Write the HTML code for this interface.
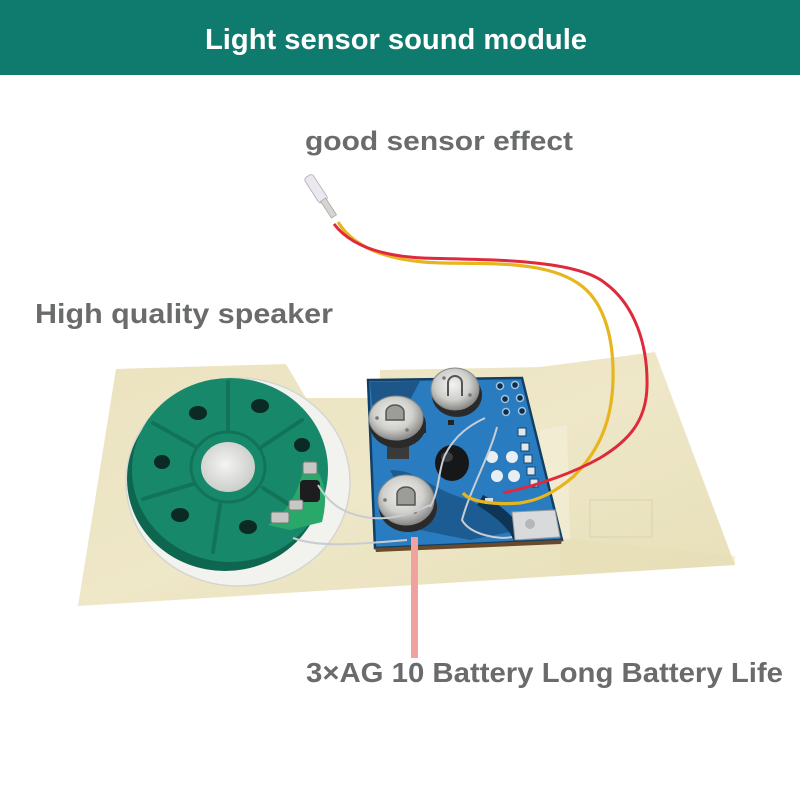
<!DOCTYPE html>
<html><head><meta charset="utf-8"><style>
html,body{margin:0;padding:0;background:#fff;}
svg{display:block;}
text{font-family:"Liberation Sans",Arial,sans-serif;font-weight:bold;}
</style></head><body>
<svg width="800" height="800" viewBox="0 0 800 800" xmlns="http://www.w3.org/2000/svg">
<defs>
<radialGradient id="coin" cx="45%" cy="40%" r="60%">
<stop offset="0" stop-color="#f2f2f0"/><stop offset="0.6" stop-color="#cfcfcc"/><stop offset="1" stop-color="#8a8a88"/>
</radialGradient>
<radialGradient id="dome" cx="45%" cy="45%" r="60%">
<stop offset="0" stop-color="#f4f4f2"/><stop offset="1" stop-color="#c9cbc8"/>
</radialGradient>
<linearGradient id="tape" x1="0" y1="0" x2="1" y2="1">
<stop offset="0" stop-color="#ebe3bf"/><stop offset="0.5" stop-color="#eee7c8"/><stop offset="1" stop-color="#e7dfb7"/>
</linearGradient>
</defs>
<rect width="800" height="800" fill="#fff"/>
<!-- header -->
<rect x="0" y="0" width="800" height="75" fill="#0f7b6e"/>
<text x="205" y="49" font-size="29" fill="#fff" textLength="382" lengthAdjust="spacingAndGlyphs">Light sensor sound module</text>

<!-- labels -->
<text x="305" y="150" font-size="27" fill="#6a6b6b" textLength="268" lengthAdjust="spacingAndGlyphs">good sensor effect</text>
<text x="35" y="323" font-size="28" fill="#6a6b6b" textLength="298" lengthAdjust="spacingAndGlyphs">High quality speaker</text>

<!-- tape -->
<polygon points="116,369 286,364 306,398 380,398 380,370 540,367 655,352 735,565 78,606" fill="url(#tape)"/>
<rect x="590" y="500" width="62" height="37" fill="none" stroke="#d8d2b6" stroke-width="1"/>
<polygon points="540,430 567,425 570,540 540,545" fill="#f3eed8" opacity="0.7"/>
<polygon points="560,538 735,556 735,565 560,575" fill="#e5ddb3" opacity="0.5"/>

<!-- speaker -->
<ellipse cx="238" cy="482" rx="112" ry="104" fill="#f2f2ef" stroke="#d6d6d0" stroke-width="1.5"/>
<ellipse cx="225" cy="479" rx="98" ry="92" fill="#0e664f"/>
<ellipse cx="230" cy="470" rx="98" ry="92" fill="#18886b"/>
<g stroke="#117358" stroke-width="4" stroke-linecap="round">
<line x1="228" y1="430" x2="228" y2="382"/>
<line x1="196" y1="447" x2="153" y2="423"/>
<line x1="193" y1="484" x2="143" y2="499"/>
<line x1="220" y1="505" x2="213" y2="552"/>
<line x1="260" y1="448" x2="302" y2="420"/>
<line x1="263" y1="488" x2="298" y2="510"/>
</g>
<ellipse cx="228" cy="467" rx="37" ry="35" fill="#18886b" stroke="#117358" stroke-width="3"/>
<ellipse cx="228" cy="467" rx="27" ry="25" fill="url(#dome)"/>
<g fill="#0b2a24">
<ellipse cx="198" cy="413" rx="9" ry="7"/>
<ellipse cx="260" cy="406" rx="9" ry="7"/>
<ellipse cx="302" cy="445" rx="8" ry="7"/>
<ellipse cx="162" cy="462" rx="8" ry="7"/>
<ellipse cx="180" cy="515" rx="9" ry="7"/>
<ellipse cx="248" cy="527" rx="9" ry="7"/>
</g>
<!-- speaker tab -->
<path d="M305,460 C322,470 330,490 322,522 L290,530 L268,525 C290,510 300,490 305,460 Z" fill="#2aa86a"/>
<rect x="303" y="462" width="14" height="12" rx="2" fill="#c7c7c4" stroke="#777" stroke-width="1"/>
<rect x="300" y="480" width="20" height="22" rx="4" fill="#1d1d1f"/>
<rect x="289" y="500" width="14" height="10" rx="2" fill="#c7c7c4" stroke="#777" stroke-width="1"/>
<rect x="271" y="512" width="18" height="11" rx="2" fill="#c7c7c4" stroke="#777" stroke-width="1"/>

<!-- pcb -->
<polygon points="368,380 522,378 562,540 375,548" fill="#2a7cc0"/>
<polygon points="368,380 522,378 562,540 375,548" fill="none" stroke="#123f66" stroke-width="2.5"/>
<polygon points="375,548 562,540 561,544 376,552" fill="#6b4a2a"/>
<path d="M370,382 L420,381 L410,400 L372,405 Z" fill="#163d62" opacity="0.6"/>
<path d="M390,470 C420,470 430,490 470,500 L520,530 L470,540 L420,530 Z" fill="#1a5486" opacity="0.8"/>
<path d="M480,500 C500,512 515,525 520,540" stroke="#0f3556" stroke-width="12" fill="none"/>
<!-- pads -->
<g fill="#e9eef2">
<circle cx="492" cy="457" r="6"/><circle cx="512" cy="457" r="6"/>
<circle cx="497" cy="476" r="6"/><circle cx="514" cy="476" r="6"/>
</g>
<g fill="#dfe6ec" stroke="#14466e" stroke-width="1">
<rect x="518" y="428" width="8" height="8"/><rect x="521" y="443" width="8" height="8"/>
<rect x="524" y="455" width="8" height="8"/><rect x="527" y="467" width="8" height="8"/>
<rect x="530" y="479" width="8" height="8"/>
</g>
<g fill="#0f2d48" stroke="#9fc3df" stroke-width="1.5">
<circle cx="500" cy="386" r="3.5"/><circle cx="515" cy="385" r="3.5"/>
<circle cx="505" cy="399" r="3.5"/><circle cx="520" cy="398" r="3.5"/>
<circle cx="506" cy="412" r="3.5"/><circle cx="522" cy="411" r="3.5"/>
</g>
<rect x="387" y="445" width="22" height="14" fill="#3a3a3a"/>
<rect x="420" y="428" width="6" height="5" fill="#222"/>
<rect x="448" y="420" width="6" height="5" fill="#222"/>
<rect x="485" y="498" width="8" height="6" fill="#ddd"/>
<rect x="395" y="512" width="12" height="8" fill="#e8eef2"/>
<!-- metal pad bottom right -->
<polygon points="512,512 555,510 560,537 515,540" fill="#d8dadc" stroke="#999" stroke-width="1"/>
<circle cx="530" cy="524" r="5" fill="#b5b7b9"/>
<!-- black component -->
<ellipse cx="452" cy="463" rx="17" ry="18" fill="#151719"/>
<ellipse cx="447" cy="457" rx="6" ry="5" fill="#3a3c40"/>
<!-- coin cells -->
<g>
<ellipse cx="457" cy="395" rx="25" ry="22" fill="#2a2a2a"/>
<ellipse cx="455" cy="389" rx="24" ry="21" fill="url(#coin)" stroke="#888" stroke-width="1"/>
<path d="M448,396 L448,383 A7,7 0 0 1 462,383 L462,396" fill="none" stroke="#555" stroke-width="2"/>
<circle cx="444" cy="378" r="1.8" fill="#777"/><circle cx="470" cy="395" r="1.8" fill="#777"/>

<ellipse cx="398" cy="425" rx="28" ry="23" fill="#2a2a2a"/>
<ellipse cx="396" cy="418" rx="27" ry="22" fill="url(#coin)" stroke="#888" stroke-width="1"/>
<path d="M386,420 L386,412 A9,7 0 0 1 404,412 L404,420 Z" fill="#9c9c98" stroke="#555" stroke-width="1.5"/>
<circle cx="377" cy="418" r="1.8" fill="#777"/><circle cx="407" cy="430" r="1.8" fill="#777"/>

<ellipse cx="408" cy="507" rx="29" ry="25" fill="#2a2a2a"/>
<ellipse cx="406" cy="500" rx="28" ry="25" fill="url(#coin)" stroke="#888" stroke-width="1"/>
<path d="M397,505 L397,494 A9,7 0 0 1 415,494 L415,505 Z" fill="#9c9c98" stroke="#555" stroke-width="1.5"/>
<circle cx="385" cy="500" r="1.8" fill="#777"/><circle cx="415" cy="512" r="1.8" fill="#777"/>
</g>
<!-- gray wires -->
<g fill="none" stroke="#c9cdd2" stroke-width="2">
<path d="M318,485 C330,505 345,515 372,518 C395,520 415,512 430,505"/>
<path d="M293,538 C320,548 360,544 407,540"/>
<path d="M430,507 C440,490 438,470 445,455 C455,435 470,425 485,418"/>
<path d="M497,427 C490,455 470,490 462,520 C470,535 500,540 512,537"/>
</g>
<!-- sensor wires -->
<path d="M338,222 C352,245 380,258 423,262 C470,266 545,256 583,287 C605,305 614,340 613,380 C612,420 600,450 573,477 C555,492 540,500 520,503 C495,505 470,502 463,493" fill="none" stroke="#e7b51e" stroke-width="3.2"/>
<path d="M334,224 C350,245 380,256 423,258 C480,260 575,258 605,283 C635,305 648,345 647,387 C646,420 630,440 600,458 C575,472 540,485 503,493" fill="none" stroke="#de2a3c" stroke-width="3"/>
<!-- sensor LED -->
<g transform="rotate(-33 322 198)">
<rect x="317" y="172" width="10" height="30" rx="3" fill="#ece8f0" stroke="#bdb6c4" stroke-width="1"/>
<rect x="319" y="200" width="6" height="20" fill="#d8d4d0" stroke="#aaa" stroke-width="0.8"/>
</g>

<!-- pink pointer line -->
<rect x="411" y="537" width="7" height="121" fill="#f0a29f"/>
<text x="306" y="682" font-size="28" fill="#6a6b6b" textLength="477" lengthAdjust="spacingAndGlyphs">3×AG 10 Battery Long Battery Life</text>
</svg>
</body></html>
